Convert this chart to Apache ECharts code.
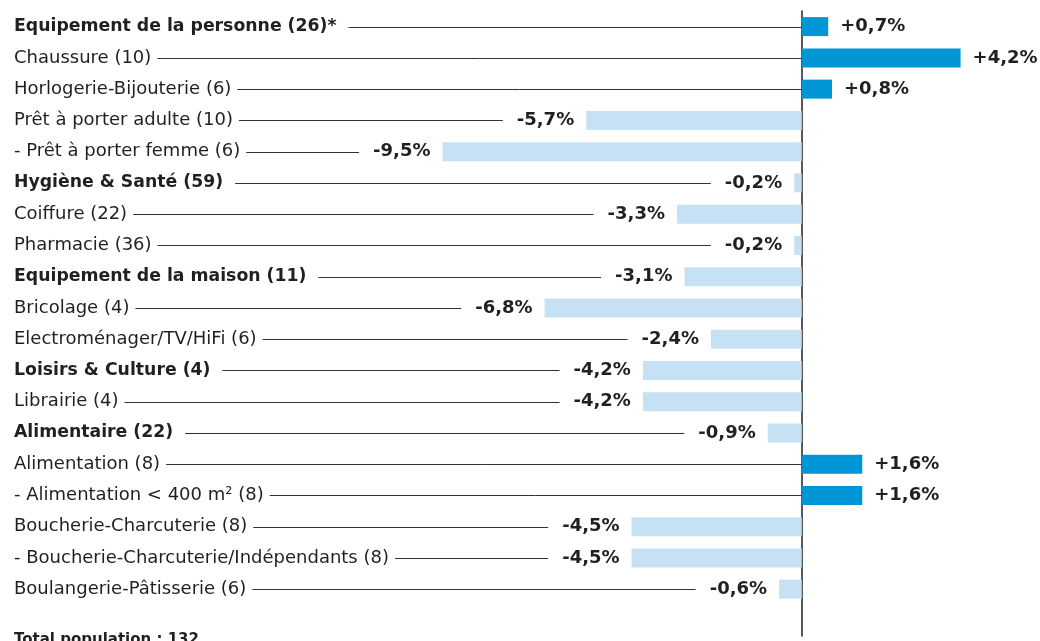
<!DOCTYPE html>
<html>
<head>
<meta charset="utf-8">
<script src="https://cdn.jsdelivr.net/npm/echarts@6/dist/echarts.min.js"></script>
<style>
  html, body { margin: 0; padding: 0; background: #fff; }
  #chart { width: 1040px; height: 641px; }
</style>
</head>
<body>
<div id="chart"></div>
<script>
const categories = [
  'Equipement de la personne (26)*',
  'Chaussure (10)',
  'Horlogerie-Bijouterie (6)',
  'Prêt à porter adulte (10)',
  '- Prêt à porter femme (6)',
  'Hygiène & Santé (59)',
  'Coiffure (22)',
  'Pharmacie (36)',
  'Equipement de la maison (11)',
  'Bricolage (4)',
  'Electroménager/TV/HiFi (6)',
  'Loisirs & Culture (4)',
  'Librairie (4)',
  'Alimentaire (22)',
  'Alimentation (8)',
  '- Alimentation < 400 m² (8)',
  'Boucherie-Charcuterie (8)',
  '- Boucherie-Charcuterie/Indépendants (8)',
  'Boulangerie-Pâtisserie (6)'
];
const values = [0.7, 4.2, 0.8, -5.7, -9.5, -0.2, -3.3, -0.2, -3.1, -6.8, -2.4, -4.2, -4.2, -0.9, 1.6, 1.6, -4.5, -4.5, -0.6];
const boldRows = [0, 5, 8, 11, 13];
const footNote = 'Total population : 132';

const FONT = '"DejaVu Sans", sans-serif';
const INK = '#231f20';

// category label font: bold rows are set a little smaller
function catFont(bold) {
  return bold ? 'bold 17.3px ' + FONT : '18px ' + FONT;
}

// measure text so the leader lines start right after the labels
const ctx = document.createElement('canvas').getContext('2d');
function textWidth(s, font) {
  ctx.font = font;
  return ctx.measureText(s).width;
}
function fmt(v) {
  return (v > 0 ? '+' : '') + v.toFixed(1).replace('.', ',') + '%';
}

// one empty slot at the bottom so the zero line runs down to the note
const yCats = categories.concat(['']);

const chart = echarts.init(document.getElementById('chart'));

chart.setOption({
  animation: false,
  grid: { left: 0, right: 0, top: 11, bottom: 5 },
  xAxis: {
    type: 'value',
    min: -21.2,
    max: 6.3,
    axisLine: { show: false },
    axisTick: { show: false },
    axisLabel: { show: false },
    splitLine: { show: false }
  },
  yAxis: {
    type: 'category',
    inverse: true,
    data: yCats,
    axisLine: { show: true, onZero: true, lineStyle: { color: INK, width: 1.5 } },
    axisTick: { show: false },
    axisLabel: { show: false },
    splitLine: { show: false }
  },
  series: [
    {
      type: 'custom',
      z: 1,
      silent: true,
      data: values.map(function (v, i) { return [v, i]; }),
      encode: { x: 0, y: 1 },
      renderItem: function (params, api) {
        const v = api.value(0);
        const i = api.value(1);
        const bold = boldRows.indexOf(i) >= 0;
        const p = api.coord([v < 0 ? v : 0, i]);
        const y = Math.round(p[1]) + 0.5;
        const x0 = 14;
        const lineStart = x0 + textWidth(categories[i], catFont(bold)) + (bold ? 12 : 6);
        const lineEnd = v < 0
          ? p[0] - 12 - textWidth(fmt(v), 'bold 18px ' + FONT) - 14
          : p[0];
        return {
          type: 'group',
          children: [
            {
              type: 'text',
              style: {
                x: x0,
                y: p[1],
                text: categories[i],
                font: catFont(bold),
                fill: INK,
                verticalAlign: 'middle'
              }
            },
            {
              type: 'line',
              shape: { x1: lineStart, y1: y, x2: lineEnd, y2: y },
              style: { stroke: '#333', lineWidth: 1 }
            }
          ]
        };
      }
    },
    {
      type: 'bar',
      z: 2,
      barWidth: 19,
      silent: true,
      data: values.map(function (v) {
        return {
          value: v,
          itemStyle: { color: v > 0 ? '#0096d6' : '#c6e1f4' },
          label: {
            position: v > 0 ? 'right' : 'left',
            distance: v > 0 ? 12 : 12
          }
        };
      }),
      label: {
        show: true,
        formatter: function (p) { return fmt(p.value); },
        fontFamily: FONT,
        fontWeight: 'bold',
        fontSize: 18,
        color: INK
      }
    }
  ],
  graphic: [
    {
      type: 'text',
      left: 14,
      top: 633,
      style: {
        text: footNote,
        font: 'bold 15px ' + FONT,
        fill: INK
      }
    }
  ]
});
</script>
</body>
</html>
